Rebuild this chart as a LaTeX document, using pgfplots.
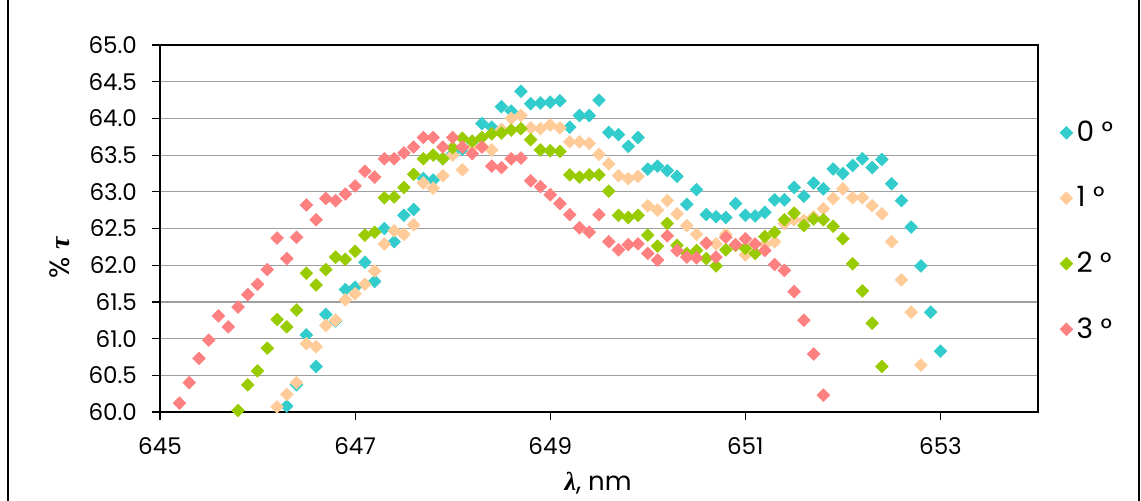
\documentclass[border=0pt]{standalone}
\usepackage{pgfplots}
\pgfplotsset{compat=1.18}
\usepackage{fontspec}
\setmainfont{Poppins}
\newfontfamily\grk{Liberation Serif}
\definecolor{c0}{HTML}{33CCCC}
\definecolor{c1}{HTML}{FFCC99}
\definecolor{c2}{HTML}{99CC00}
\definecolor{c3}{HTML}{FF8080}
\begin{document}
\begin{tikzpicture}
\useasboundingbox (0,0) rectangle (570.5pt,250pt);
\draw[black, line width=0.6pt] (4pt,-1pt) -- (4pt,251pt);
\draw[black, line width=0.6pt] (569.5pt,-1pt) -- (569.5pt,251pt);
\begin{axis}[
  at={(80pt,44pt)}, anchor=south west,
  scale only axis, width=439pt, height=183.5pt,
  xmin=645, xmax=654, ymin=60, ymax=65,
  xtick={645,647,649,651,653},
  ytick={60,60.5,61,61.5,62,62.5,63,63.5,64,64.5,65},
  tick pos=left, tick align=outside,
  major tick length=4pt,
  tick style={black, line width=0.6pt},
  axis line style={black, line width=0.8pt},
  ymajorgrids, major grid style={gray!75, line width=0.6pt},
  /pgf/number format/assume math mode=true,
  ticklabel style={font=\fontsize{11.5}{13}\selectfont},
  yticklabel style={xshift=-4pt, /pgf/number format/.cd, fixed, fixed zerofill, precision=1},
  xticklabel style={yshift=-5pt, /pgf/number format/.cd, fixed, precision=0, 1000 sep={}},
  xlabel={{\grk\bfseries\itshape λ}, nm},
  xlabel style={font=\fontsize{13}{15}\selectfont, at={(axis description cs:0.499,-0.193)}, anchor=center},
  ylabel={\% {\grk\bfseries\itshape τ}},
  ylabel style={font=\fontsize{14}{16}\selectfont, at={(axis description cs:-0.114,0.42)}, anchor=center},
  legend style={at={(axis description cs:1.018,0.493)}, anchor=west, draw=none, fill=none,
    font=\fontsize{14}{17}\selectfont, row sep=17pt},
  legend cell align=left,
  every axis plot/.append style={only marks, mark=square*, mark size=2.2pt},
]
\addplot[mark options={rotate=45, fill=c0, draw=c0}] table {
646.3 60.08
646.4 60.37
646.5 61.05
646.6 60.62
646.7 61.33
646.8 61.24
646.9 61.67
647.0 61.70
647.1 62.04
647.2 61.78
647.3 62.50
647.4 62.32
647.5 62.68
647.6 62.76
647.7 63.18
647.8 63.16
647.9 63.45
648.0 63.52
648.1 63.58
648.2 63.68
648.3 63.93
648.4 63.88
648.5 64.16
648.6 64.10
648.7 64.37
648.8 64.20
648.9 64.21
649.0 64.22
649.1 64.24
649.2 63.88
649.3 64.04
649.4 64.04
649.5 64.25
649.6 63.81
649.7 63.78
649.8 63.62
649.9 63.74
650.0 63.31
650.1 63.35
650.2 63.29
650.3 63.21
650.4 62.83
650.5 63.03
650.6 62.69
650.7 62.66
650.8 62.65
650.9 62.84
651.0 62.68
651.1 62.67
651.2 62.72
651.3 62.89
651.4 62.89
651.5 63.06
651.6 62.94
651.7 63.12
651.8 63.04
651.9 63.31
652.0 63.25
652.1 63.36
652.2 63.45
652.3 63.33
652.4 63.44
652.5 63.11
652.6 62.88
652.7 62.52
652.8 61.99
652.9 61.36
653.0 60.83
};
\addlegendentry{0 °}
\addplot[mark options={rotate=45, fill=c1, draw=c1}] table {
646.2 60.07
646.3 60.24
646.4 60.40
646.5 60.93
646.6 60.89
646.7 61.18
646.8 61.25
646.9 61.53
647.0 61.61
647.1 61.74
647.2 61.92
647.3 62.29
647.4 62.47
647.5 62.42
647.6 62.55
647.7 63.12
647.8 63.05
647.9 63.22
648.0 63.50
648.1 63.30
648.2 63.60
648.3 63.62
648.4 63.57
648.5 63.85
648.6 64.00
648.7 64.04
648.8 63.87
648.9 63.86
649.0 63.91
649.1 63.87
649.2 63.68
649.3 63.68
649.4 63.66
649.5 63.51
649.6 63.38
649.7 63.22
649.8 63.18
649.9 63.21
650.0 62.81
650.1 62.75
650.2 62.88
650.3 62.70
650.4 62.54
650.5 62.42
650.6 62.30
650.7 62.29
650.8 62.42
650.9 62.28
651.0 62.14
651.1 62.17
651.2 62.28
651.3 62.32
651.4 62.57
651.5 62.62
651.6 62.61
651.7 62.66
651.8 62.77
651.9 62.91
652.0 63.04
652.1 62.92
652.2 62.92
652.3 62.81
652.4 62.70
652.5 62.32
652.6 61.80
652.7 61.36
652.8 60.64
};
\addlegendentry{1 °}
\addplot[mark options={rotate=45, fill=c2, draw=c2}] table {
645.8 60.02
645.9 60.37
646.0 60.56
646.1 60.87
646.2 61.26
646.3 61.16
646.4 61.39
646.5 61.89
646.6 61.73
646.7 61.94
646.8 62.11
646.9 62.08
647.0 62.19
647.1 62.41
647.2 62.45
647.3 62.92
647.4 62.93
647.5 63.06
647.6 63.24
647.7 63.45
647.8 63.50
647.9 63.45
648.0 63.60
648.1 63.73
648.2 63.69
648.3 63.74
648.4 63.79
648.5 63.80
648.6 63.84
648.7 63.86
648.8 63.71
648.9 63.57
649.0 63.56
649.1 63.55
649.2 63.23
649.3 63.20
649.4 63.23
649.5 63.23
649.6 63.01
649.7 62.68
649.8 62.65
649.9 62.68
650.0 62.41
650.1 62.26
650.2 62.57
650.3 62.27
650.4 62.16
650.5 62.20
650.6 62.09
650.7 61.99
650.8 62.21
650.9 62.27
651.0 62.23
651.1 62.16
651.2 62.39
651.3 62.45
651.4 62.62
651.5 62.71
651.6 62.54
651.7 62.63
651.8 62.62
651.9 62.53
652.0 62.36
652.1 62.02
652.2 61.65
652.3 61.21
652.4 60.62
};
\addlegendentry{2 °}
\addplot[mark options={rotate=45, fill=c3, draw=c3}] table {
645.2 60.12
645.3 60.40
645.4 60.73
645.5 60.98
645.6 61.31
645.7 61.16
645.8 61.43
645.9 61.60
646.0 61.74
646.1 61.94
646.2 62.37
646.3 62.09
646.4 62.38
646.5 62.82
646.6 62.62
646.7 62.91
646.8 62.88
646.9 62.97
647.0 63.08
647.1 63.28
647.2 63.20
647.3 63.45
647.4 63.45
647.5 63.53
647.6 63.61
647.7 63.74
647.8 63.74
647.9 63.61
648.0 63.74
648.1 63.61
648.2 63.52
648.3 63.61
648.4 63.35
648.5 63.33
648.6 63.45
648.7 63.46
648.8 63.15
648.9 63.07
649.0 62.96
649.1 62.84
649.2 62.69
649.3 62.51
649.4 62.45
649.5 62.69
649.6 62.32
649.7 62.21
649.8 62.28
649.9 62.29
650.0 62.16
650.1 62.07
650.2 62.40
650.3 62.20
650.4 62.11
650.5 62.10
650.6 62.30
650.7 62.11
650.8 62.38
650.9 62.28
651.0 62.36
651.1 62.29
651.2 62.20
651.3 62.01
651.4 61.93
651.5 61.64
651.6 61.25
651.7 60.79
651.8 60.23
};
\addlegendentry{3 °}
\end{axis}
\end{tikzpicture}
\end{document}
